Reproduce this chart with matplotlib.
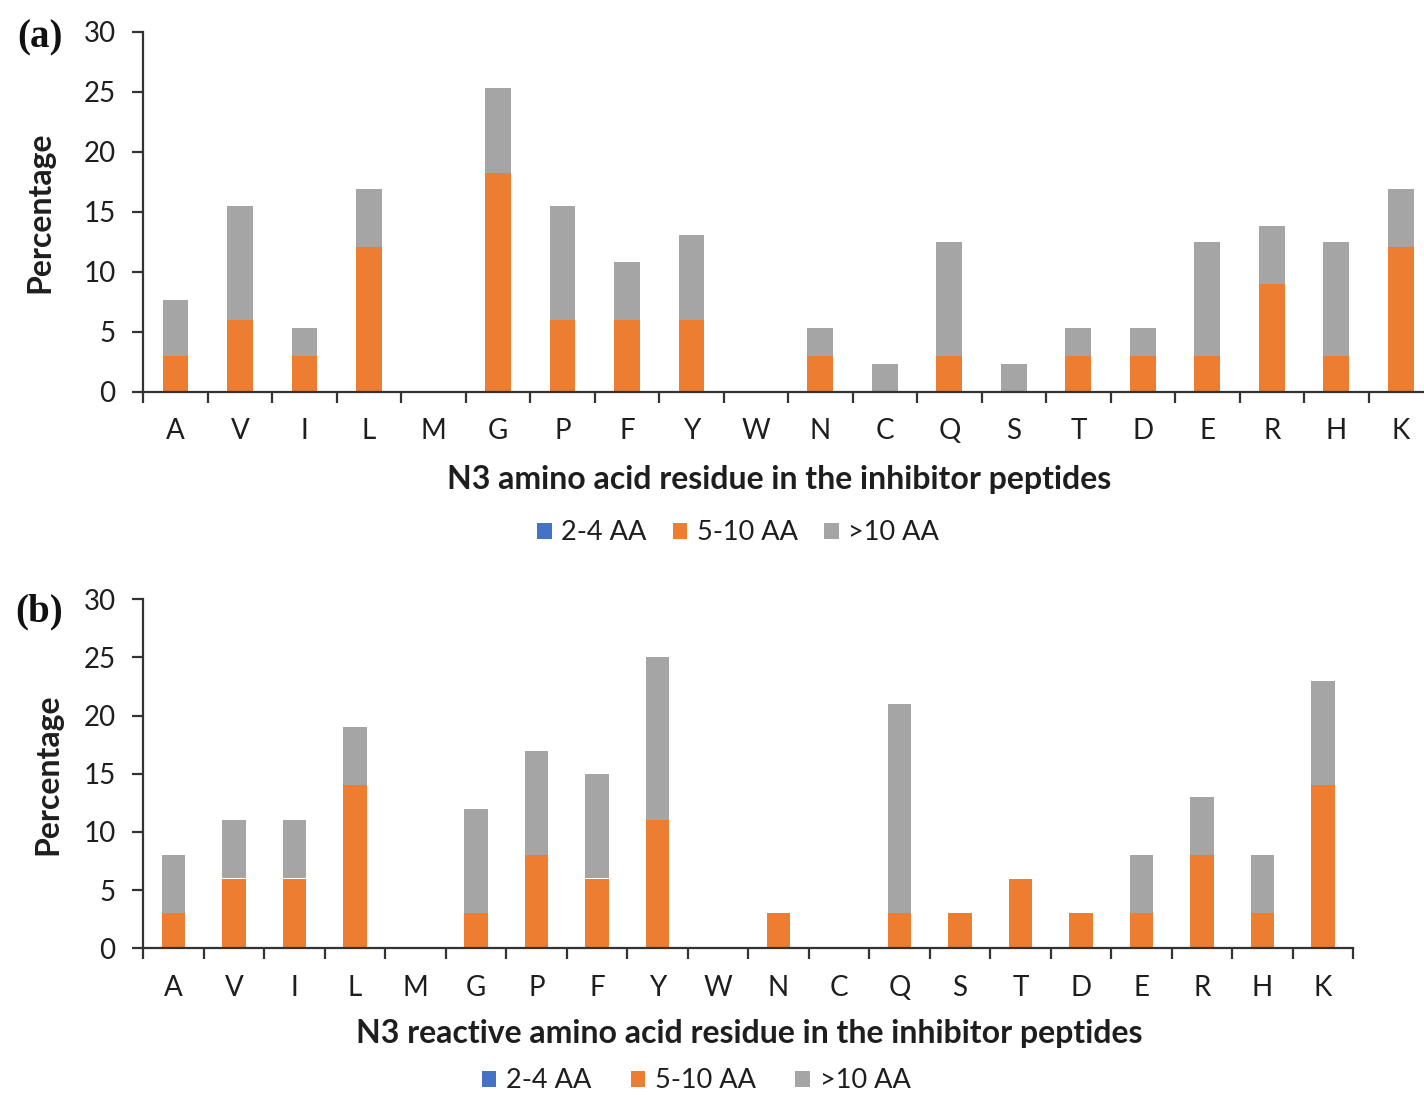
import numpy as np
import matplotlib
matplotlib.use("Agg")
import matplotlib.pyplot as plt

plt.rcParams['font.family'] = ['Lato', 'DejaVu Sans']

residues = ["A", "V", "I", "L", "M", "G", "P", "F", "Y", "W",
            "N", "C", "Q", "S", "T", "D", "E", "R", "H", "K"]
series_names = ["2-4 AA", "5-10 AA", ">10 AA"]

# Panel (a): N3 amino acid residue
a_2_4 = [0] * 20
a_5_10 = [3.0, 6.0, 3.0, 12.1, 0, 18.2, 6.0, 6.0, 6.0, 0,
          3.0, 0, 3.0, 0, 3.0, 3.0, 3.0, 9.0, 3.0, 12.1]
a_gt10 = [4.7, 9.5, 2.3, 4.8, 0, 7.1, 9.5, 4.8, 7.1, 0,
          2.3, 2.3, 9.5, 2.3, 2.3, 2.3, 9.5, 4.8, 9.5, 4.8]

# Panel (b): N3 reactive amino acid residue
b_2_4 = [0] * 20
b_5_10 = [3, 6, 6, 14, 0, 3, 8, 6, 11, 0,
          3, 0, 3, 3, 6, 3, 3, 8, 3, 14]
b_gt10 = [5, 5, 5, 5, 0, 9, 9, 9, 14, 0,
          0, 0, 18, 0, 0, 0, 5, 5, 5, 9]

yticks = [0, 5, 10, 15, 20, 25, 30]

colors = ["#4472C4", "#ED7D31", "#A5A5A5"]
axis_col = "#333333"
text_col = "#1e1e1e"

W, H = 1424, 1095
fig = plt.figure(figsize=(W / 100, H / 100), dpi=100)


def px_axes(left, right, top, bottom):
    return fig.add_axes([left / W, 1 - bottom / H, (right - left) / W, (bottom - top) / H])


def draw(ax, s1, s2, s3, width, xlabel):
    x = np.arange(len(residues))
    b1 = ax.bar(x, s1, width, color=colors[0], label=series_names[0])
    b2 = ax.bar(x, s2, width, bottom=s1, color=colors[1], label=series_names[1])
    bottom3 = np.array(s1) + np.array(s2)
    b3 = ax.bar(x, s3, width, bottom=bottom3, color=colors[2], label=series_names[2])
    ax.set_xlim(-0.5, len(residues) - 0.5)
    ax.set_ylim(0, 30)
    ax.set_yticks(yticks)
    ax.set_xticks(np.arange(len(residues) + 1) - 0.5, labels=[])
    ax.set_xticks(x, labels=residues, minor=True)
    ax.tick_params(axis='x', which='major', direction='out', length=8, width=1.6, color=axis_col)
    ax.tick_params(axis='x', which='minor', length=0, pad=19, labelsize=20, labelcolor=text_col)
    ax.tick_params(axis='y', direction='out', length=8, width=1.6, color=axis_col,
                   pad=12, labelsize=20, labelcolor=text_col)
    for s in ['top', 'right']:
        ax.spines[s].set_visible(False)
    for s in ['left', 'bottom']:
        ax.spines[s].set_color(axis_col)
        ax.spines[s].set_linewidth(1.6)
    ax.set_ylabel("Percentage", fontsize=23, fontweight='bold', color=text_col, va='center')
    ax.set_xlabel(xlabel, fontsize=23, fontweight='bold', color=text_col, va='center')
    return [b1, b2, b3]


def place_labels(ax, l, r, t, b, ylab_x, xlab_x, xlab_y):
    ax.yaxis.set_label_coords((ylab_x - l) / (r - l), 0.5)
    ax.xaxis.set_label_coords((xlab_x - l) / (r - l), -(xlab_y - b) / (b - t))


# (a)
L, R, T, B = 143.3, 1433, 31.7, 392
ax1 = px_axes(L, R, T, B)
h1 = draw(ax1, a_2_4, a_5_10, a_gt10, 0.4,
          "N3 amino acid residue in the inhibitor peptides")
place_labels(ax1, L, R, T, B, 40, 779, 480)
fig.legend(h1, series_names, loc='center', bbox_to_anchor=(738 / W, 1 - 533 / H),
           ncol=3, frameon=False, fontsize=19.5, handlelength=0.55, handleheight=0.55,
           handletextpad=0.35, columnspacing=0.95, labelcolor=text_col)
fig.text(17 / W, 1 - 38 / H, "(a)", fontsize=28, fontweight='bold',
         family='Liberation Serif', va='center', ha='left', color='#111111')

# (b)
L, R, T, B = 143.3, 1353.3, 599.3, 948.3
ax2 = px_axes(L, R, T, B)
h2 = draw(ax2, b_2_4, b_5_10, b_gt10, 0.39,
          "N3 reactive amino acid residue in the inhibitor peptides")
place_labels(ax2, L, R, T, B, 48, 749, 1034)
fig.legend(h2, series_names, loc='center', bbox_to_anchor=(696 / W, 1 - 1081 / H),
           ncol=3, frameon=False, fontsize=19.5, handlelength=0.55, handleheight=0.55,
           handletextpad=0.35, columnspacing=1.45, labelcolor=text_col)
fig.text(15 / W, 1 - 612 / H, "(b)", fontsize=28, fontweight='bold',
         family='Liberation Serif', va='center', ha='left', color='#111111')

fig.savefig("out.png", dpi=100)
